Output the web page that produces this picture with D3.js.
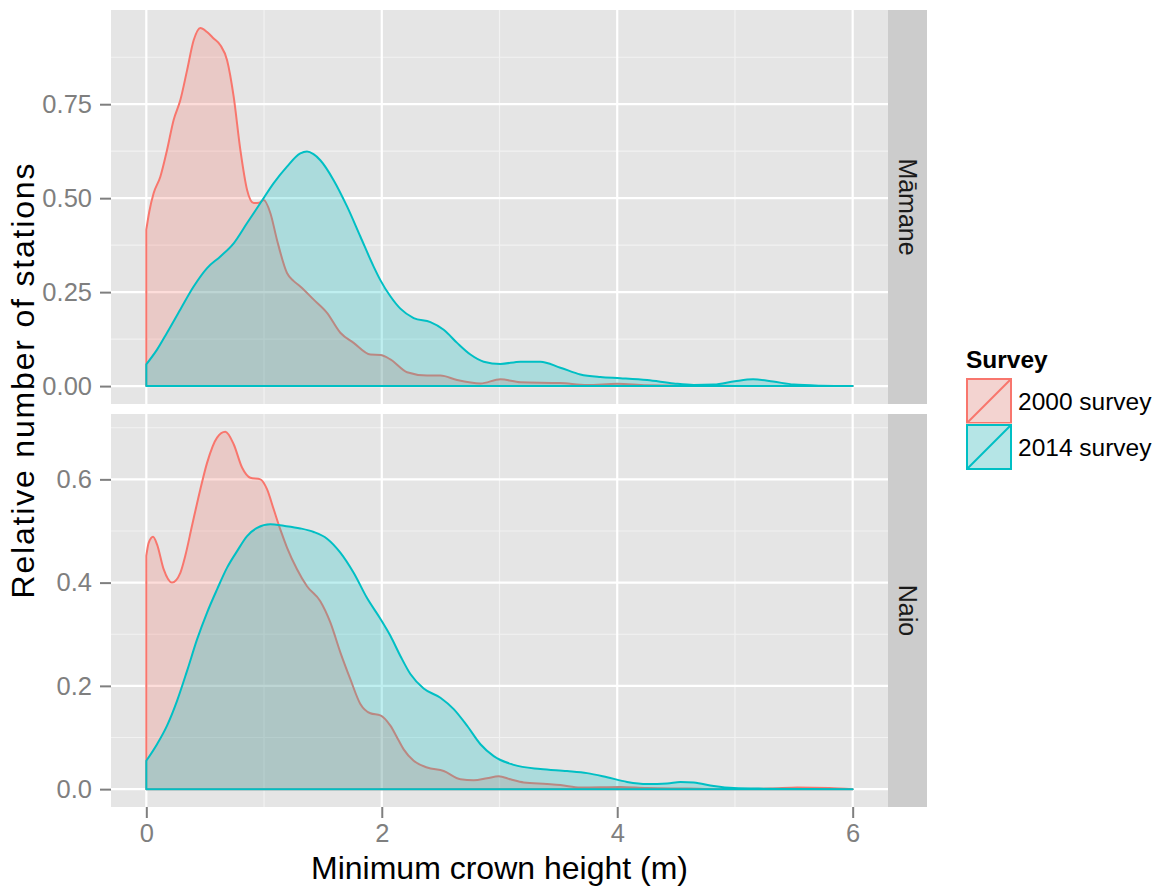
<!DOCTYPE html>
<html>
<head>
<meta charset="utf-8">
<script src="https://cdn.jsdelivr.net/npm/d3@7"></script>
<style>
  body { margin: 0; background: #fff; }
  text { font-family: "Liberation Sans", Arial, sans-serif; }
</style>
</head>
<body>
<svg id="chart" width="1159" height="886"></svg>
<script>
// density curves, [x, density]
const mamane2000 = [[0,0.416],[0.025,0.464],[0.062,0.513],[0.119,0.557],[0.176,0.628],[0.232,0.708],[0.289,0.761],[0.346,0.840],[0.402,0.920],[0.459,0.953],[0.516,0.942],[0.572,0.925],[0.629,0.907],[0.686,0.867],[0.742,0.770],[0.799,0.628],[0.856,0.522],[0.912,0.487],[0.96,0.488],[0.997,0.495],[1.054,0.46],[1.110,0.389],[1.195,0.301],[1.25,0.28],[1.308,0.265],[1.422,0.230],[1.535,0.195],[1.648,0.142],[1.761,0.115],[1.903,0.084],[1.99,0.083],[2.073,0.071],[2.215,0.037],[2.385,0.028],[2.498,0.028],[2.64,0.016],[2.838,0.007],[3.008,0.018],[3.178,0.01],[3.517,0.008],[3.744,0.003],[4.0,0.006],[4.25,0.002],[4.6,0.001],[5.0,0.0005],[6,0]];
const mamane2014 = [[0,0.058],[0.091,0.097],[0.176,0.142],[0.289,0.204],[0.402,0.265],[0.516,0.314],[0.629,0.345],[0.742,0.380],[0.856,0.434],[0.969,0.487],[1.082,0.540],[1.195,0.584],[1.308,0.619],[1.365,0.624],[1.42,0.617],[1.478,0.601],[1.591,0.548],[1.705,0.478],[1.818,0.398],[1.931,0.318],[1.988,0.282],[2.073,0.239],[2.158,0.206],[2.271,0.181],[2.413,0.170],[2.526,0.150],[2.64,0.115],[2.753,0.084],[2.866,0.065],[3.008,0.059],[3.178,0.065],[3.347,0.065],[3.517,0.049],[3.687,0.031],[3.857,0.024],[4.027,0.021],[4.254,0.016],[4.48,0.007],[4.65,0.003],[4.82,0.004],[5.0,0.013],[5.154,0.018],[5.324,0.012],[5.5,0.004],[5.73,0.001],[6,0]];
const naio2000 = [[0,0.452],[0.020,0.477],[0.057,0.489],[0.091,0.474],[0.147,0.426],[0.218,0.400],[0.289,0.419],[0.331,0.452],[0.388,0.510],[0.459,0.581],[0.516,0.632],[0.601,0.681],[0.671,0.692],[0.742,0.668],[0.813,0.623],[0.884,0.603],[0.969,0.600],[1.025,0.581],[1.082,0.542],[1.138,0.503],[1.195,0.468],[1.280,0.426],[1.365,0.393],[1.478,0.364],[1.563,0.323],[1.648,0.265],[1.733,0.213],[1.818,0.165],[1.903,0.147],[1.988,0.143],[2.073,0.123],[2.144,0.094],[2.186,0.077],[2.271,0.055],[2.385,0.042],[2.526,0.035],[2.668,0.019],[2.781,0.017],[2.894,0.021],[2.993,0.025],[3.093,0.019],[3.206,0.013],[3.404,0.010],[3.517,0.008],[3.687,0.003],[4.027,0.004],[4.25,0.002],[4.6,0.001],[4.85,0],[5.3,0.001],[5.53,0.003],[5.8,0.002],[6,0]];
const naio2014 = [[0,0.055],[0.091,0.087],[0.176,0.123],[0.261,0.171],[0.346,0.229],[0.431,0.290],[0.516,0.342],[0.601,0.387],[0.686,0.429],[0.771,0.461],[0.856,0.490],[0.941,0.506],[1.054,0.513],[1.167,0.510],[1.308,0.505],[1.422,0.498],[1.535,0.485],[1.648,0.458],[1.761,0.419],[1.875,0.37],[1.988,0.33],[2.073,0.297],[2.158,0.258],[2.243,0.223],[2.356,0.195],[2.498,0.177],[2.611,0.155],[2.724,0.123],[2.838,0.087],[2.951,0.064],[3.121,0.047],[3.347,0.039],[3.574,0.035],[3.744,0.031],[3.914,0.023],[4.084,0.014],[4.254,0.010],[4.424,0.011],[4.537,0.014],[4.65,0.013],[4.82,0.006],[4.99,0.002],[5.2,0.001],[6,0]];

const surveys = ["2000 survey", "2014 survey"];
const species = ["Māmane", "Naio"];
const xTicks = [0, 2, 4, 6];
const xMinor = [1, 3, 5];
const mamaneTicks = [0, 0.25, 0.5, 0.75];
const mamaneMinor = [0.125, 0.375, 0.625, 0.875];
const naioTicks = [0, 0.2, 0.4, 0.6];
const naioMinor = [0.1, 0.3, 0.5, 0.7];

const colors = d3.scaleOrdinal().domain(surveys).range(["#F8766D", "#00BFC4"]);

const panels = [
  { label: species[0], series: [mamane2000, mamane2014], ticks: mamaneTicks, minor: mamaneMinor, fmt: d3.format(".2f"), top: 10, bottom: 404 },
  { label: species[1], series: [naio2000, naio2014], ticks: naioTicks, minor: naioMinor, fmt: d3.format(".1f"), top: 414, bottom: 807 }
];

const svg = d3.select("#chart");
const left = 111, right = 888, stripW = 39;

const x = d3.scaleLinear().domain([-0.3, 6.3]).range([left, right]);

panels.forEach(p => {
  const ymax = d3.max(p.series, s => d3.max(s, d => d[1]));
  const pad = ymax * 0.05;
  const y = d3.scaleLinear().domain([-pad, ymax + pad]).range([p.bottom, p.top]);
  const g = svg.append("g");

  g.append("rect")
    .attr("x", left).attr("y", p.top)
    .attr("width", right - left).attr("height", p.bottom - p.top)
    .attr("fill", "#E5E5E5");

  // minor grid
  g.selectAll(".hmin").data(p.minor).join("line")
    .attr("x1", left).attr("x2", right)
    .attr("y1", d => y(d)).attr("y2", d => y(d))
    .attr("stroke", "#F2F2F2").attr("stroke-width", 1.2);
  g.selectAll(".vmin").data(xMinor).join("line")
    .attr("x1", d => x(d)).attr("x2", d => x(d))
    .attr("y1", p.top).attr("y2", p.bottom)
    .attr("stroke", "#F2F2F2").attr("stroke-width", 1.2);
  // major grid
  g.selectAll(".hmaj").data(p.ticks).join("line")
    .attr("x1", left).attr("x2", right)
    .attr("y1", d => y(d)).attr("y2", d => y(d))
    .attr("stroke", "#fff").attr("stroke-width", 2.2);
  g.selectAll(".vmaj").data(xTicks).join("line")
    .attr("x1", d => x(d)).attr("x2", d => x(d))
    .attr("y1", p.top).attr("y2", p.bottom)
    .attr("stroke", "#fff").attr("stroke-width", 2.2);

  const area = d3.area()
    .x(d => x(d[0]))
    .y0(y(0))
    .y1(d => y(d[1]))
    .curve(d3.curveMonotoneX);

  p.series.forEach((s, i) => {
    g.append("path")
      .attr("d", area(s))
      .attr("fill", colors(surveys[i]))
      .attr("fill-opacity", 0.25)
      .attr("stroke", colors(surveys[i]))
      .attr("stroke-width", 2)
      .attr("stroke-linejoin", "round");
  });

  // y axis
  const yAxis = g.append("g")
    .attr("transform", `translate(${left},0)`)
    .call(d3.axisLeft(y).tickValues(p.ticks).tickFormat(p.fmt).tickSize(11).tickPadding(8));
  yAxis.select(".domain").remove();
  yAxis.selectAll(".tick line").attr("stroke", "#7F7F7F").attr("stroke-width", 2);
  yAxis.selectAll(".tick text")
    .attr("fill", "#7F7F7F").attr("font-size", 25.5)
    .attr("font-family", "Liberation Sans, Arial, sans-serif");

  // strip
  g.append("rect")
    .attr("x", right).attr("y", p.top)
    .attr("width", stripW).attr("height", p.bottom - p.top)
    .attr("fill", "#CCCCCC");
  g.append("text")
    .attr("transform", `translate(${right + stripW / 2 + 0.5},${(p.top + p.bottom) / 2}) rotate(90)`)
    .attr("text-anchor", "middle")
    .attr("dy", "0.35em")
    .attr("font-size", 25)
    .attr("fill", "#1A1A1A")
    .text(p.label);
});

// x axis under the bottom panel
const xAxis = svg.append("g")
  .attr("transform", `translate(0,${panels[1].bottom})`)
  .call(d3.axisBottom(x).tickValues(xTicks).tickFormat(d3.format("d")).tickSize(11).tickPadding(6));
xAxis.select(".domain").remove();
xAxis.selectAll(".tick line").attr("stroke", "#7F7F7F").attr("stroke-width", 2);
xAxis.selectAll(".tick text")
  .attr("fill", "#7F7F7F").attr("font-size", 25.5)
  .attr("font-family", "Liberation Sans, Arial, sans-serif");

svg.append("text")
  .attr("x", (left + right) / 2).attr("y", 879)
  .attr("text-anchor", "middle")
  .attr("font-size", 32)
  .text("Minimum crown height (m)");

svg.append("text")
  .attr("transform", "translate(34,381) rotate(-90)")
  .attr("text-anchor", "middle")
  .attr("font-size", 32)
  .attr("textLength", 435)
  .attr("lengthAdjust", "spacing")
  .text("Relative number of stations");

// legend
const legend = svg.append("g").attr("transform", "translate(966,352)");
legend.append("text")
  .attr("x", 0).attr("y", 16)
  .attr("font-size", 24.5)
  .attr("font-weight", "bold")
  .text("Survey");

const keySize = 46;
surveys.forEach((s, i) => {
  const k = legend.append("g").attr("transform", `translate(0,${26 + i * keySize})`);
  k.append("rect").attr("width", keySize).attr("height", keySize).attr("fill", "#F2F2F2").attr("stroke", "#fff");
  k.append("rect")
    .attr("x", 1).attr("y", 1)
    .attr("width", keySize - 2).attr("height", keySize - 2)
    .attr("fill", colors(s)).attr("fill-opacity", 0.25)
    .attr("stroke", colors(s)).attr("stroke-width", 2);
  k.append("line")
    .attr("x1", 1).attr("y1", keySize - 1)
    .attr("x2", keySize - 1).attr("y2", 1)
    .attr("stroke", colors(s)).attr("stroke-width", 2);
  k.append("text")
    .attr("x", keySize + 6).attr("y", keySize / 2)
    .attr("dy", "0.35em")
    .attr("font-size", 24.5)
    .text(s);
});
</script>
</body>
</html>
